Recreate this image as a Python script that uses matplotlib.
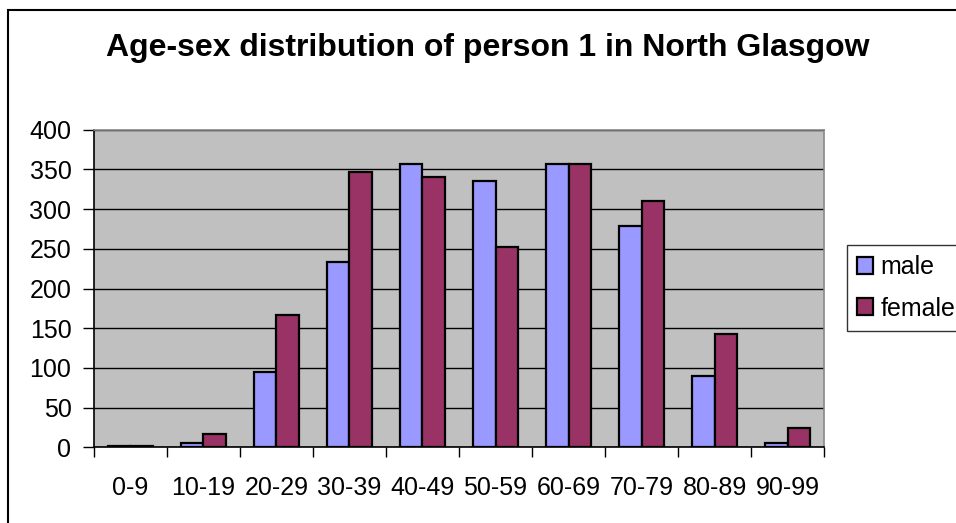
import matplotlib
matplotlib.use("Agg")
import matplotlib.pyplot as plt
import numpy as np
from matplotlib.patches import Rectangle

plt.rcParams['font.family'] = ['Liberation Sans', 'DejaVu Sans']

age_groups = ["0-9", "10-19", "20-29", "30-39", "40-49", "50-59",
              "60-69", "70-79", "80-89", "90-99"]
male = [2, 5, 95, 234, 357, 335, 357, 279, 90, 5]
female = [2, 17, 166, 347, 340, 252, 357, 310, 143, 24]
series_names = ["male", "female"]
colors = ["#9999FF", "#993366"]
y_ticks = list(range(0, 401, 50))

W, H = 956, 523
fig = plt.figure(figsize=(W / 100, H / 100), dpi=100)
fig.patch.set_facecolor("white")

# chart-area border
fig.add_artist(Rectangle((8 / W, -0.1), 1.2, 1 - 10 / H + 0.1,
                         transform=fig.transFigure, fill=False,
                         edgecolor="black", linewidth=1.5))

ax = fig.add_axes([93.7 / W, 1 - 447.3 / H, (824.3 - 93.7) / W, (447.3 - 129.7) / H])
ax.set_facecolor("#C0C0C0")

x = np.arange(len(age_groups))
bw = 0.305
ax.bar(x - bw / 2, male, width=bw, color=colors[0], edgecolor="black",
       linewidth=1.6, label=series_names[0], zorder=3)
ax.bar(x + bw / 2, female, width=bw, color=colors[1], edgecolor="black",
       linewidth=1.6, label=series_names[1], zorder=3)

ax.set_xlim(-0.5, len(age_groups) - 0.5)
ax.set_ylim(0, 400)
ax.set_yticks(y_ticks)
ax.set_yticklabels([str(v) for v in y_ticks], fontsize=18)
ax.yaxis.grid(True, color="black", linewidth=1, zorder=1)
ax.set_axisbelow(True)

# category labels centred, ticks at boundaries
ax.set_xticks(x)
ax.set_xticklabels(age_groups, fontsize=18)
ax.tick_params(axis="x", length=0, pad=21)
ax.set_xticks(np.arange(-0.5, len(age_groups), 1), minor=True)
ax.tick_params(axis="x", which="minor", length=7, width=1, color="black")
ax.tick_params(axis="y", length=8, width=1, pad=8)

for side in ["left", "bottom"]:
    ax.spines[side].set_color("black")
    ax.spines[side].set_linewidth(1.2)
for side in ["top", "right"]:
    ax.spines[side].set_color("#888888")
    ax.spines[side].set_linewidth(1.2)

fig.text(488 / W, 1 - 48 / H, "Age-sex distribution of person 1 in North Glasgow",
         ha="center", va="center", fontsize=23, fontweight="bold")

leg = fig.legend(loc="upper left", bbox_to_anchor=(846.5 / W, 1 - 245 / H),
                 fontsize=18, frameon=True, fancybox=False, edgecolor="black",
                 handlelength=0.65, handleheight=0.65, handletextpad=0.3,
                 borderpad=0.4, labelspacing=0.7, borderaxespad=0)
leg.get_frame().set_linewidth(1)

fig.savefig("out.png", dpi=100, facecolor="white")
